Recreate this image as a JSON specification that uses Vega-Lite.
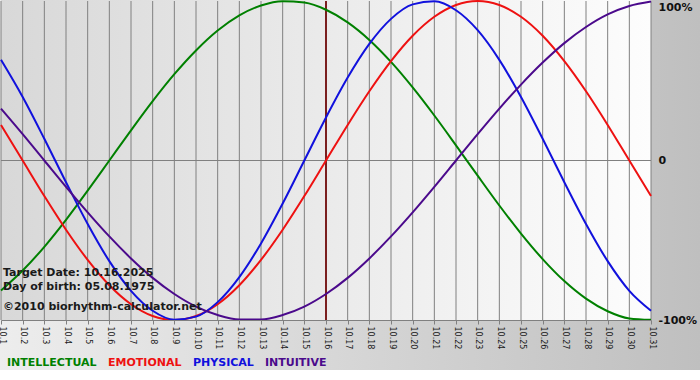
{
  "$schema": "https://vega.github.io/schema/vega-lite/v6.json",
  "width": 650,
  "height": 319,
  "padding": {"left": 1, "top": 1, "right": 49, "bottom": 60},
  "autosize": {"type": "none"},
  "background": "#ffffff",
  "resolve": {"axis": {"x": "independent", "y": "independent"}},
  "config": {
    "view": {"stroke": null},
    "font": "DejaVu Sans",
    "axisX": {
      "labelAngle": 90, "labelFontSize": 8, "labelColor": "#1a1a1a", "labelFont": "DejaVu Sans",
      "tickColor": "#808080", "tickSize": 4, "domainColor": "#808080", "domainWidth": 1,
      "grid": false, "labelPadding": 2,
      "labelOverlap": false, "labelFlush": false
    },
    "axisY": {
      "grid": false, "domain": false, "ticks": false, "tickSize": 0, "labelPadding": 7,
      "labelFontSize": 11, "labelFontWeight": "bold", "labelColor": "#111111", "labelFont": "DejaVu Sans",
      "labelFlush": false
    }
  },
  "layer": [
    {
      "data": {"values": [{}]},
      "mark": {"type": "rect", "fill": {"gradient": "linear", "x1": 0, "y1": 0, "x2": 1, "y2": 0,
        "stops": [{"offset": 0, "color": "#ededed"}, {"offset": 1, "color": "#bfbfbf"}]}},
      "encoding": {
        "x": {"datum": 0.95, "type": "quantitative", "axis": null, "scale": {"domain": [1, 31], "nice": false, "zero": false}},
        "x2": {"datum": 33.3},
        "y": {"datum": 1.01, "type": "quantitative", "axis": null, "scale": {"domain": [-1, 1], "nice": false}},
        "y2": {"datum": -1.313}
      }
    },
    {
      "data": {"values": [{}]},
      "mark": {"type": "rect", "fill": {"gradient": "linear", "x1": 0, "y1": 0, "x2": 1, "y2": 0,
        "stops": [{"offset": 0, "color": "#d8d8d8"}, {"offset": 1, "color": "#fdfdfd"}]}},
      "encoding": {
        "x": {"datum": 1, "type": "quantitative", "axis": null, "scale": {"domain": [1, 31], "nice": false, "zero": false}},
        "x2": {"datum": 31},
        "y": {"datum": 1.01, "type": "quantitative", "axis": null, "scale": {"domain": [-1, 1], "nice": false}},
        "y2": {"datum": -1}
      }
    },
    {
      "data": {"values": [{"day": 1}, {"day": 2}, {"day": 3}, {"day": 4}, {"day": 5}, {"day": 6}, {"day": 7}, {"day": 8}, {"day": 9}, {"day": 10}, {"day": 11}, {"day": 12}, {"day": 13}, {"day": 14}, {"day": 15}, {"day": 16}, {"day": 17}, {"day": 18}, {"day": 19}, {"day": 20}, {"day": 21}, {"day": 22}, {"day": 23}, {"day": 24}, {"day": 25}, {"day": 26}, {"day": 27}, {"day": 28}, {"day": 29}, {"day": 30}, {"day": 31}]},
      "mark": {"type": "rule", "color": "#808080", "strokeWidth": 1},
      "encoding": {
        "x": {"field": "day", "type": "quantitative", "axis": null, "scale": {"domain": [1, 31], "nice": false, "zero": false}}
      }
    },
    {
      "data": {"values": [{}]},
      "mark": {"type": "rule", "color": "#808080", "strokeWidth": 1},
      "encoding": {
        "y": {"datum": 0, "type": "quantitative", "axis": null, "scale": {"domain": [-1, 1], "nice": false}}
      }
    },
    {
      "data": {"values": [{}]},
      "mark": {"type": "rule", "color": "#7a1e1e", "strokeWidth": 2},
      "encoding": {
        "x": {"datum": 16, "type": "quantitative", "axis": null, "scale": {"domain": [1, 31], "nice": false, "zero": false}}
      }
    },
    {
      "data": {"values": [
        {"day": 1, "series": "INTELLECTUAL", "v": -0.815}, {"day": 2, "series": "INTELLECTUAL", "v": -0.690}, {"day": 3, "series": "INTELLECTUAL", "v": -0.541}, {"day": 4, "series": "INTELLECTUAL", "v": -0.372}, {"day": 5, "series": "INTELLECTUAL", "v": -0.189}, {"day": 6, "series": "INTELLECTUAL", "v": 0}, {"day": 7, "series": "INTELLECTUAL", "v": 0.189}, {"day": 8, "series": "INTELLECTUAL", "v": 0.372}, {"day": 9, "series": "INTELLECTUAL", "v": 0.541}, {"day": 10, "series": "INTELLECTUAL", "v": 0.690}, {"day": 11, "series": "INTELLECTUAL", "v": 0.815}, {"day": 12, "series": "INTELLECTUAL", "v": 0.910}, {"day": 13, "series": "INTELLECTUAL", "v": 0.972}, {"day": 14, "series": "INTELLECTUAL", "v": 0.999}, {"day": 15, "series": "INTELLECTUAL", "v": 0.990}, {"day": 16, "series": "INTELLECTUAL", "v": 0.945}, {"day": 17, "series": "INTELLECTUAL", "v": 0.866}, {"day": 18, "series": "INTELLECTUAL", "v": 0.756}, {"day": 19, "series": "INTELLECTUAL", "v": 0.618}, {"day": 20, "series": "INTELLECTUAL", "v": 0.458}, {"day": 21, "series": "INTELLECTUAL", "v": 0.282}, {"day": 22, "series": "INTELLECTUAL", "v": 0.095}, {"day": 23, "series": "INTELLECTUAL", "v": -0.095}, {"day": 24, "series": "INTELLECTUAL", "v": -0.282}, {"day": 25, "series": "INTELLECTUAL", "v": -0.458}, {"day": 26, "series": "INTELLECTUAL", "v": -0.618}, {"day": 27, "series": "INTELLECTUAL", "v": -0.756}, {"day": 28, "series": "INTELLECTUAL", "v": -0.866}, {"day": 29, "series": "INTELLECTUAL", "v": -0.945}, {"day": 30, "series": "INTELLECTUAL", "v": -0.990}, {"day": 31, "series": "INTELLECTUAL", "v": -0.999},
        {"day": 1, "series": "EMOTIONAL", "v": 0.223}, {"day": 2, "series": "EMOTIONAL", "v": 0}, {"day": 3, "series": "EMOTIONAL", "v": -0.223}, {"day": 4, "series": "EMOTIONAL", "v": -0.434}, {"day": 5, "series": "EMOTIONAL", "v": -0.623}, {"day": 6, "series": "EMOTIONAL", "v": -0.782}, {"day": 7, "series": "EMOTIONAL", "v": -0.901}, {"day": 8, "series": "EMOTIONAL", "v": -0.975}, {"day": 9, "series": "EMOTIONAL", "v": -1}, {"day": 10, "series": "EMOTIONAL", "v": -0.975}, {"day": 11, "series": "EMOTIONAL", "v": -0.901}, {"day": 12, "series": "EMOTIONAL", "v": -0.782}, {"day": 13, "series": "EMOTIONAL", "v": -0.623}, {"day": 14, "series": "EMOTIONAL", "v": -0.434}, {"day": 15, "series": "EMOTIONAL", "v": -0.223}, {"day": 16, "series": "EMOTIONAL", "v": 0}, {"day": 17, "series": "EMOTIONAL", "v": 0.223}, {"day": 18, "series": "EMOTIONAL", "v": 0.434}, {"day": 19, "series": "EMOTIONAL", "v": 0.623}, {"day": 20, "series": "EMOTIONAL", "v": 0.782}, {"day": 21, "series": "EMOTIONAL", "v": 0.901}, {"day": 22, "series": "EMOTIONAL", "v": 0.975}, {"day": 23, "series": "EMOTIONAL", "v": 1}, {"day": 24, "series": "EMOTIONAL", "v": 0.975}, {"day": 25, "series": "EMOTIONAL", "v": 0.901}, {"day": 26, "series": "EMOTIONAL", "v": 0.782}, {"day": 27, "series": "EMOTIONAL", "v": 0.623}, {"day": 28, "series": "EMOTIONAL", "v": 0.434}, {"day": 29, "series": "EMOTIONAL", "v": 0.223}, {"day": 30, "series": "EMOTIONAL", "v": 0}, {"day": 31, "series": "EMOTIONAL", "v": -0.223},
        {"day": 1, "series": "PHYSICAL", "v": 0.631}, {"day": 2, "series": "PHYSICAL", "v": 0.398}, {"day": 3, "series": "PHYSICAL", "v": 0.136}, {"day": 4, "series": "PHYSICAL", "v": -0.136}, {"day": 5, "series": "PHYSICAL", "v": -0.398}, {"day": 6, "series": "PHYSICAL", "v": -0.631}, {"day": 7, "series": "PHYSICAL", "v": -0.817}, {"day": 8, "series": "PHYSICAL", "v": -0.942}, {"day": 9, "series": "PHYSICAL", "v": -0.998}, {"day": 10, "series": "PHYSICAL", "v": -0.979}, {"day": 11, "series": "PHYSICAL", "v": -0.888}, {"day": 12, "series": "PHYSICAL", "v": -0.731}, {"day": 13, "series": "PHYSICAL", "v": -0.520}, {"day": 14, "series": "PHYSICAL", "v": -0.270}, {"day": 15, "series": "PHYSICAL", "v": 0}, {"day": 16, "series": "PHYSICAL", "v": 0.270}, {"day": 17, "series": "PHYSICAL", "v": 0.520}, {"day": 18, "series": "PHYSICAL", "v": 0.731}, {"day": 19, "series": "PHYSICAL", "v": 0.888}, {"day": 20, "series": "PHYSICAL", "v": 0.979}, {"day": 21, "series": "PHYSICAL", "v": 0.998}, {"day": 22, "series": "PHYSICAL", "v": 0.942}, {"day": 23, "series": "PHYSICAL", "v": 0.817}, {"day": 24, "series": "PHYSICAL", "v": 0.631}, {"day": 25, "series": "PHYSICAL", "v": 0.398}, {"day": 26, "series": "PHYSICAL", "v": 0.136}, {"day": 27, "series": "PHYSICAL", "v": -0.136}, {"day": 28, "series": "PHYSICAL", "v": -0.398}, {"day": 29, "series": "PHYSICAL", "v": -0.631}, {"day": 30, "series": "PHYSICAL", "v": -0.817}, {"day": 31, "series": "PHYSICAL", "v": -0.942},
        {"day": 1, "series": "INTUITIVE", "v": 0.325}, {"day": 2, "series": "INTUITIVE", "v": 0.165}, {"day": 3, "series": "INTUITIVE", "v": 0}, {"day": 4, "series": "INTUITIVE", "v": -0.165}, {"day": 5, "series": "INTUITIVE", "v": -0.325}, {"day": 6, "series": "INTUITIVE", "v": -0.476}, {"day": 7, "series": "INTUITIVE", "v": -0.614}, {"day": 8, "series": "INTUITIVE", "v": -0.736}, {"day": 9, "series": "INTUITIVE", "v": -0.837}, {"day": 10, "series": "INTUITIVE", "v": -0.916}, {"day": 11, "series": "INTUITIVE", "v": -0.969}, {"day": 12, "series": "INTUITIVE", "v": -0.997}, {"day": 13, "series": "INTUITIVE", "v": -0.997}, {"day": 14, "series": "INTUITIVE", "v": -0.969}, {"day": 15, "series": "INTUITIVE", "v": -0.916}, {"day": 16, "series": "INTUITIVE", "v": -0.837}, {"day": 17, "series": "INTUITIVE", "v": -0.736}, {"day": 18, "series": "INTUITIVE", "v": -0.614}, {"day": 19, "series": "INTUITIVE", "v": -0.476}, {"day": 20, "series": "INTUITIVE", "v": -0.325}, {"day": 21, "series": "INTUITIVE", "v": -0.165}, {"day": 22, "series": "INTUITIVE", "v": 0}, {"day": 23, "series": "INTUITIVE", "v": 0.165}, {"day": 24, "series": "INTUITIVE", "v": 0.325}, {"day": 25, "series": "INTUITIVE", "v": 0.476}, {"day": 26, "series": "INTUITIVE", "v": 0.614}, {"day": 27, "series": "INTUITIVE", "v": 0.736}, {"day": 28, "series": "INTUITIVE", "v": 0.837}, {"day": 29, "series": "INTUITIVE", "v": 0.916}, {"day": 30, "series": "INTUITIVE", "v": 0.969}, {"day": 31, "series": "INTUITIVE", "v": 0.997}
      ]},
      "mark": {"type": "line", "strokeWidth": 2, "interpolate": "monotone"},
      "encoding": {
        "x": {"field": "day", "type": "quantitative", "title": null,
          "scale": {"domain": [1, 31], "nice": false, "zero": false},
          "axis": {"orient": "bottom", "zindex": 1, "grid": false, "values": [1,2,3,4,5,6,7,8,9,10,11,12,13,14,15,16,17,18,19,20,21,22,23,24,25,26,27,28,29,30,31],
            "labelExpr": "'10.' + datum.value"}},
        "y": {"field": "v", "type": "quantitative", "title": null,
          "scale": {"domain": [-1, 1], "nice": false},
          "axis": {"orient": "right", "zindex": 1, "values": [-1, 0, 1],
            "labelExpr": "datum.value > 0.5 ? '100%' : datum.value < -0.5 ? '-100%' : '0'",
            "labelBaseline": {"condition": {"test": "datum.value > 0.5", "value": "top"}, "value": "middle"}}},
        "color": {"field": "series", "type": "nominal",
          "scale": {"domain": ["INTELLECTUAL", "EMOTIONAL", "PHYSICAL", "INTUITIVE"],
                    "range": ["#008000", "#ee1111", "#1111dd", "#4b0a8c"]},
          "legend": {"title": null, "orient": "none", "direction": "horizontal", "legendX": -5, "legendY": 356,
            "symbolSize": 0, "symbolStrokeWidth": 0, "symbolOpacity": 0, "labelOffset": 0, "columnPadding": -3,
            "labelFont": "DejaVu Sans", "labelFontSize": 11, "labelFontWeight": "bold", "labelLimit": 300,
            "labelColor": {"expr": "scale('color', datum.value)"}}}
      }
    },
    {
      "data": {"values": [{"t": "Target Date: 10.16.2025"}]},
      "mark": {"type": "text", "align": "left", "baseline": "alphabetic", "font": "DejaVu Sans", "fontWeight": "bold", "fontSize": 11, "color": "#1a1a1a"},
      "encoding": {
        "x": {"datum": 1.09, "type": "quantitative", "axis": null, "scale": {"domain": [1, 31], "nice": false, "zero": false}},
        "y": {"datum": -0.722, "type": "quantitative", "axis": null, "scale": {"domain": [-1, 1], "nice": false}},
        "text": {"field": "t"}
      }
    },
    {
      "data": {"values": [{"t": "Day of birth: 05.08.1975"}]},
      "mark": {"type": "text", "align": "left", "baseline": "alphabetic", "font": "DejaVu Sans", "fontWeight": "bold", "fontSize": 11, "color": "#1a1a1a"},
      "encoding": {
        "x": {"datum": 1.09, "type": "quantitative", "axis": null, "scale": {"domain": [1, 31], "nice": false, "zero": false}},
        "y": {"datum": -0.81, "type": "quantitative", "axis": null, "scale": {"domain": [-1, 1], "nice": false}},
        "text": {"field": "t"}
      }
    },
    {
      "data": {"values": [{"t": "©2010 biorhythm-calculator.net"}]},
      "mark": {"type": "text", "align": "left", "baseline": "alphabetic", "font": "DejaVu Sans", "fontWeight": "bold", "fontSize": 11, "color": "#1a1a1a"},
      "encoding": {
        "x": {"datum": 1.09, "type": "quantitative", "axis": null, "scale": {"domain": [1, 31], "nice": false, "zero": false}},
        "y": {"datum": -0.935, "type": "quantitative", "axis": null, "scale": {"domain": [-1, 1], "nice": false}},
        "text": {"field": "t"}
      }
    }
  ]
}
